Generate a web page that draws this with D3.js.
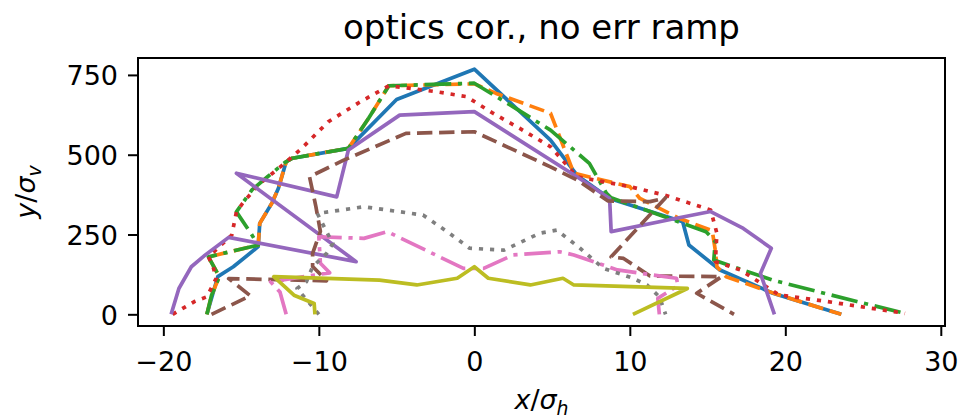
<!DOCTYPE html>
<html>
<head>
<meta charset="utf-8">
<script src="https://cdn.jsdelivr.net/npm/d3@7"></script>
<style>
  html, body { margin: 0; padding: 0; background: #fff; }
  svg { display: block; font-family: "DejaVu Sans", sans-serif; }
</style>
</head>
<body>
<svg id="chart" width="959" height="418"></svg>
<script>
// ---- data ----
const titleText = "optics cor., no err ramp";
const xTicks = [-20, -10, 0, 10, 20, 30];
const yTicks = [0, 250, 500, 750];
const seriesNames = ["C0", "C1", "C2", "C3", "C4", "C5", "C6", "C7", "C8"];
const seriesColors = ["#1f77b4", "#ff7f0e", "#2ca02c", "#d62728", "#9467bd", "#8c564b", "#e377c2", "#7f7f7f", "#bcbd22"];
const seriesStyles = ["solid", "dashed", "dashdot", "dotted", "solid", "dashed", "dashdot", "dotted", "solid"];

const blueX = [-17.2, -16.5, -15.5, -13.9, -13.8, -13.0, -12.6, -12.1, -11.7, -8.1, -5.0, 0.0, 4.9, 6.6, 8.7, 13.4, 13.8, 15.8, 19.2, 23.6];
const blueY = [0, 118, 149, 212, 285, 350, 395, 478, 489, 520, 673, 768, 546, 436, 363, 290, 217, 139, 66, 0];

const orangeX = [-17.2, -16.9, -16.4, -17.1, -13.9, -13.8, -13.0, -12.6, -12.1, -11.7, -8.1, -6.8, -5.5, 0.0, 1.4, 4.9, 6.4, 10.0, 10.65, 13.2, 15.3, 15.5, 15.6, 16.2, 19.5, 23.6];
const orangeY = [0, 60, 118, 180, 217, 285, 350, 395, 478, 489, 520, 614, 716, 722, 692, 630, 442, 400, 363, 300, 262, 200, 149, 118, 62, 0];

const greenX = [-17.2, -16.9, -16.4, -17.1, -13.9, -14.4, -15.3, -14.3, -13.3, -12.2, -11.7, -8.1, -6.8, -5.5, 0.0, 2.5, 4.9, 7.4, 8.5, 8.8, 14.9, 15.5, 15.4, 19.2, 24.6, 27.7];
const greenY = [0, 60, 118, 180, 217, 256, 321, 390, 431, 475, 489, 520, 614, 716, 724, 650, 577, 473, 379, 365, 259, 228, 170, 107, 40, 3];

const redX = [-19.4, -18.0, -17.2, -16.6, -16.8, -17.1, -15.6, -15.3, -14.9, -13.9, -12.2, -11.1, -9.4, -7.5, -5.5, -4.1, -2.4, -0.5, 1.2, 2.9, 4.9, 6.6, 10.0, 12.2, 15.2, 15.6, 15.5, 16.4, 17.1, 19.6, 22.7, 27.7];
const redY = [0, 40, 55, 113, 149, 180, 248, 321, 348, 405, 473, 520, 603, 661, 716, 708, 697, 682, 630, 583, 525, 431, 400, 374, 327, 254, 165, 151, 139, 61, 40, 3];

const purpleX = [-19.5, -19.0, -18.2, -17.3, -15.8, -7.6, -15.3, -8.85, -8.1, -4.8, 0.0, 6.6, 8.7, 8.8, 13.0, 15.2, 17.3, 19.1, 18.4, 19.3];
const purpleY = [0, 81, 149, 186, 241, 165, 442, 368, 515, 624, 635, 431, 363, 259, 301, 322, 269, 207, 128, 0];

const brownX = [-16.9, -14.4, -15.8, -9.5, -10.4, -10.4, -9.9, -10.2, -10.6, -8.4, -4.4, 0.0, 4.9, 6.6, 8.6, 11.3, 12.3, 8.8, 9.6, 11.3, 15.9, 14.3, 16.7];
const brownY = [0, 58, 112, 105, 150, 191, 260, 340, 431, 483, 567, 572, 462, 421, 355, 353, 365, 180, 175, 120, 118, 66, 0];

const pinkX = [-12.1, -12.5, -13.1, -9.3, -9.9, -10.0, -7.1, -5.6, -0.7, 0.6, 2.5, 5.5, 6.4, 9.2, 13.0, 13.1, 11.8, 11.9];
const pinkY = [0, 70, 102, 130, 160, 243, 238, 259, 144, 144, 186, 196, 186, 139, 113, 90, 50, 0];

const grayX = [-10.0, -11.4, -10.8, -10.4, -9.5, -9.1, -9.5, -10.1, -7.1, -3.3, -1.6, -0.3, 1.9, 4.2, 5.3, 6.8, 8.3, 10.2, 11.1, 11.9, 12.3];
const grayY = [0, 81, 102, 149, 191, 222, 259, 316, 337, 311, 254, 207, 201, 254, 264, 207, 144, 113, 92, 55, 0];

const oliveX = [-10.25, -10.3, -11.6, -12.9, -6.1, -3.7, -1.1, 0.0, 0.9, 3.6, 5.7, 6.4, 13.7, 10.2];
const oliveY = [0, 34, 60, 118, 107, 92, 113, 149, 113, 92, 113, 92, 81, 0];

const seriesX = [blueX, orangeX, greenX, redX, purpleX, brownX, pinkX, grayX, oliveX];
const seriesY = [blueY, orangeY, greenY, redY, purpleY, brownY, pinkY, grayY, oliveY];

// ---- layout ----
const W = 959, H = 418;
const plot = { left: 138, right: 945, top: 58, bottom: 326 };
const xDomain = [-21.63, 30.27];
const yDomain = [-36.6, 803];
const lw = 3.7;
const dashes = {
  solid: null,
  dashed: [15.4, 6.7],
  dashdot: [26.7, 6.7, 4.2, 6.7],
  dotted: [4.2, 6.9]
};

const svg = d3.select("#chart");
const x = d3.scaleLinear().domain(xDomain).range([plot.left, plot.right]);
const y = d3.scaleLinear().domain(yDomain).range([plot.bottom, plot.top]);

svg.append("defs").append("clipPath").attr("id", "clip")
  .append("rect")
  .attr("x", plot.left).attr("y", plot.top)
  .attr("width", plot.right - plot.left).attr("height", plot.bottom - plot.top);

// lines
const line = d3.line().x(d => x(d[0])).y(d => y(d[1]));
const gLines = svg.append("g").attr("clip-path", "url(#clip)");
seriesNames.forEach((name, i) => {
  const pts = seriesX[i].map((v, j) => [v, seriesY[i][j]]);
  const p = gLines.append("path")
    .datum(pts)
    .attr("d", line)
    .attr("fill", "none")
    .attr("stroke", seriesColors[i])
    .attr("stroke-width", lw)
    .attr("stroke-linejoin", "round")
    .attr("stroke-linecap", "butt");
  const da = dashes[seriesStyles[i]];
  if (da) p.attr("stroke-dasharray", da.join(","));
});

// axes
const tickFont = 27;
const xAxis = d3.axisBottom(x).tickValues(xTicks).tickSize(10).tickPadding(6)
  .tickFormat(d => d < 0 ? "\u2212" + Math.abs(d) : String(d));
const yAxis = d3.axisLeft(y).tickValues(yTicks).tickSize(10).tickPadding(10)
  .tickFormat(d => String(d));

const gx = svg.append("g").attr("transform", `translate(0,${plot.bottom})`).call(xAxis);
const gy = svg.append("g").attr("transform", `translate(${plot.left},0)`).call(yAxis);
[gx, gy].forEach(g => {
  g.select(".domain").remove();
  g.selectAll(".tick line").attr("stroke", "#000").attr("stroke-width", 2);
  g.selectAll(".tick text").attr("fill", "#000").attr("font-size", tickFont)
    .attr("font-family", "DejaVu Sans, sans-serif");
});
gx.selectAll(".tick text").attr("dy", null).attr("y", null)
  .attr("transform", "translate(0,45)");
gy.selectAll(".tick text").attr("dy", "0.36em");

// spines
svg.append("rect")
  .attr("x", plot.left).attr("y", plot.top)
  .attr("width", plot.right - plot.left).attr("height", plot.bottom - plot.top)
  .attr("fill", "none").attr("stroke", "#000").attr("stroke-width", 2);

// title
svg.append("text")
  .attr("x", (plot.left + plot.right) / 2).attr("y", 38.5)
  .attr("text-anchor", "middle").attr("font-size", 34).attr("fill", "#000")
  .text(titleText);

// x label
const xl = svg.append("text")
  .attr("x", (plot.left + plot.right) / 2).attr("y", 409)
  .attr("text-anchor", "middle").attr("font-size", tickFont).attr("fill", "#000");
xl.append("tspan").attr("font-style", "italic").text("x");
xl.append("tspan").text("/");
xl.append("tspan").attr("font-style", "italic").text("σ");
xl.append("tspan").attr("font-style", "italic").attr("font-size", tickFont * 0.7).attr("dy", 6).text("h");

// y label
const yl = svg.append("text")
  .attr("transform", `translate(35,${(plot.top + plot.bottom) / 2}) rotate(-90)`)
  .attr("text-anchor", "middle").attr("font-size", tickFont).attr("fill", "#000");
yl.append("tspan").attr("font-style", "italic").text("y");
yl.append("tspan").text("/");
yl.append("tspan").attr("font-style", "italic").text("σ");
yl.append("tspan").attr("font-style", "italic").attr("font-size", tickFont * 0.7).attr("dy", 6).text("v");
</script>
</body>
</html>
